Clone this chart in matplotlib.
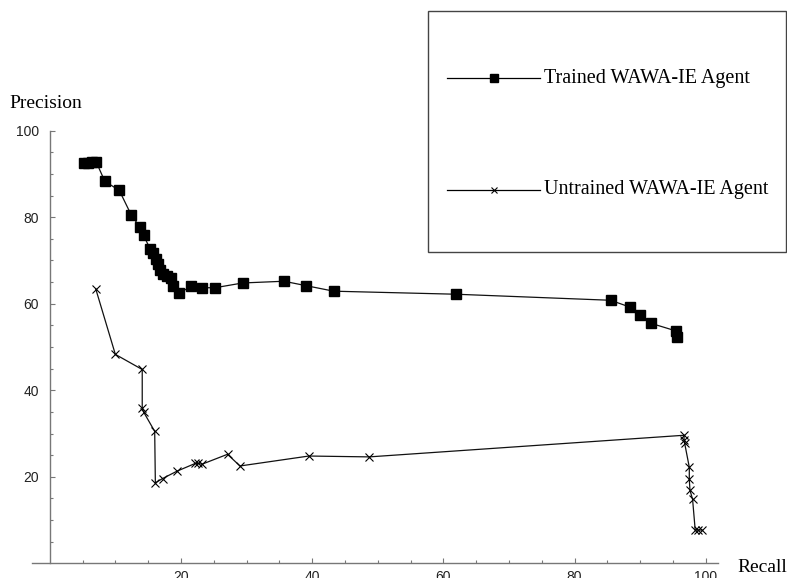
import matplotlib
matplotlib.use("Agg")
import matplotlib.pyplot as plt
from matplotlib.lines import Line2D
from matplotlib.patches import Rectangle

# recall / precision of the trained agent
trained_recall = [5.2, 5.8, 6.5, 7.1, 8.4, 10.6, 12.4, 13.7, 14.3, 15.3, 15.8, 16.2, 16.5,
                  16.8, 17.2, 17.8, 18.5, 18.8, 19.7, 21.6, 23.2, 25.2, 29.4, 35.7, 39.0,
                  43.3, 61.9, 85.5, 88.5, 90.0, 91.6, 95.5, 95.6]
trained_precision = [92.5, 92.6, 92.7, 92.7, 88.3, 86.2, 80.6, 77.8, 75.8, 72.7, 71.7, 70.4, 69.2,
                     67.7, 66.8, 66.3, 66.0, 64.2, 62.5, 64.0, 63.7, 63.7, 64.8, 65.2, 64.2,
                     62.9, 62.2, 60.8, 59.2, 57.3, 55.5, 53.7, 52.3]

# recall / precision of the untrained agent
untrained_recall = [7.0, 10.0, 14.1, 14.1, 14.3, 16.0, 16.1, 17.2, 19.4, 22.2, 22.6, 23.2,
                    27.1, 29.0, 39.5, 48.7, 96.7, 96.7, 96.8, 97.5, 97.5, 97.6, 98.0,
                    98.4, 98.9, 99.4]
untrained_precision = [63.5, 48.3, 44.8, 35.9, 35.0, 30.5, 18.6, 19.6, 21.3, 23.1, 23.1, 22.9,
                       25.2, 22.5, 24.8, 24.6, 29.6, 28.5, 27.7, 22.2, 19.4, 16.9, 14.8,
                       7.7, 7.7, 7.7]

labels = ["Trained WAWA-IE Agent", "Untrained WAWA-IE Agent"]
ticks = [20, 40, 60, 80, 100]

fig = plt.figure(figsize=(7.87, 5.78), dpi=100)
ax = fig.add_axes([0.0407, 0.0254, 0.8710, 0.7485])

ax.plot(trained_recall, trained_precision, color="#111111", lw=0.9,
        marker="s", ms=6.5, mfc="black", mec="black", clip_on=False)
ax.plot(untrained_recall, untrained_precision, color="#111111", lw=0.9,
        marker="x", ms=5.5, mew=0.8, mec="black", clip_on=False)

ax.set_xlim(-2.7, 101.8)
ax.set_ylim(0, 100)
for s in ["top", "right"]:
    ax.spines[s].set_visible(False)
ax.spines["left"].set_position(("data", 0))
for s in ["left", "bottom"]:
    ax.spines[s].set_color("#777777")
    ax.spines[s].set_linewidth(1.0)

ax.set_xticks(ticks)
ax.set_yticks(ticks)
ax.set_xticks([5 * i for i in range(1, 21)], minor=True)
ax.set_yticks([5 * i for i in range(1, 21)], minor=True)
ax.tick_params(which="major", direction="in", length=3.5, width=0.8, color="#777777",
               labelsize=10, labelcolor="#222222")
ax.tick_params(which="minor", direction="in", length=2, width=0.8, color="#777777")
ax.tick_params(axis="y", pad=8)
ax.tick_params(axis="x", pad=5)
for lab in ax.get_xticklabels() + ax.get_yticklabels():
    lab.set_fontfamily("Liberation Sans")

serif = "Liberation Serif"
fig.text(9 / 787, 1 - 103 / 578, "Precision", family=serif, fontsize=14,
         ha="left", va="center")
fig.text(737 / 787, 1 - 567 / 578, "Recall", family=serif, fontsize=14,
         ha="left", va="center")

# legend box
fig.add_artist(Rectangle((427.7 / 787, 1 - 251.5 / 578), (786 - 427.7) / 787,
                         (251.5 - 11) / 578, transform=fig.transFigure,
                         fill=False, ec="#444444", lw=1.0))
markers = [dict(marker="s", ms=6), dict(marker="x", ms=4, mew=0.8)]
for lab, mk, py in zip(labels, markers, [78, 190]):
    yf = 1 - py / 578
    fig.add_artist(Line2D([446.7 / 787, 540 / 787], [yf, yf], transform=fig.transFigure,
                          color="black", lw=0.9))
    fig.add_artist(Line2D([494 / 787], [yf], transform=fig.transFigure,
                          color="black", mfc="black", mec="black", **mk))
    fig.text(544 / 787, yf, lab, family=serif, fontsize=14.5, ha="left", va="center")

fig.savefig("out.png", dpi=100)
